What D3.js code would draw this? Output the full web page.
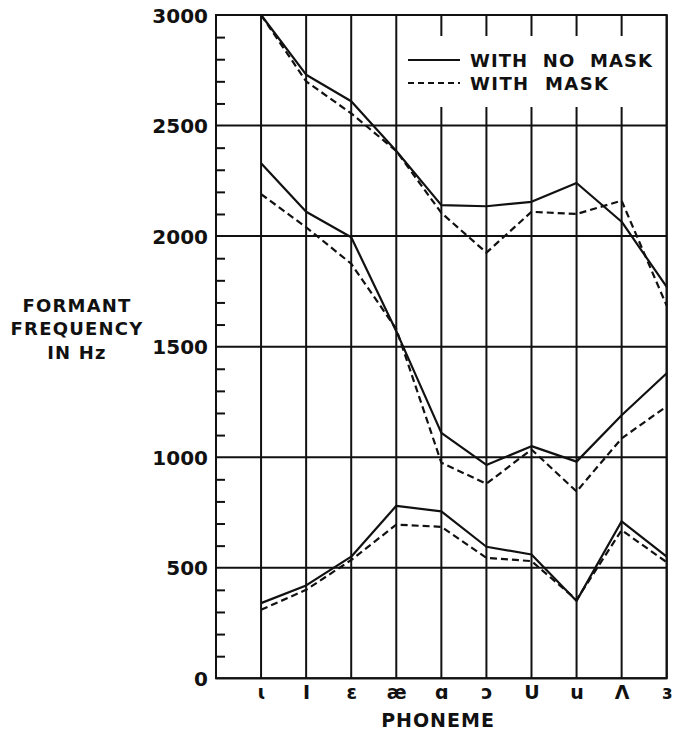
<!DOCTYPE html>
<html>
<head>
<meta charset="utf-8">
<script src="https://cdn.jsdelivr.net/npm/d3@7"></script>
<style>
  html, body { margin: 0; padding: 0; background: #fff; }
  svg { display: block; }
  text { font-family: "DejaVu Sans", sans-serif; font-weight: bold; fill: #111; }
</style>
</head>
<body>
<svg id="chart" width="674" height="734"></svg>
<script>
// Vowel phonemes along the horizontal axis
const phonemes = ["ɩ", "I", "ɛ", "æ", "ɑ", "ɔ", "U", "u", "Λ", "ɜ"];

// Formant frequencies (Hz) for each phoneme
const f1NoMask = [340, 420, 550, 780, 755, 595, 560, 350, 710, 550];
const f1Mask   = [310, 400, 535, 695, 685, 545, 530, 355, 670, 525];
const f2NoMask = [2330, 2110, 1995, 1570, 1110, 965, 1050, 980, 1190, 1380];
const f2Mask   = [2190, 2040, 1875, 1580, 975, 880, 1035, 845, 1085, 1230];
const f3NoMask = [3000, 2730, 2610, 2385, 2140, 2135, 2155, 2240, 2065, 1770];
const f3Mask   = [3000, 2700, 2555, 2385, 2105, 1925, 2110, 2100, 2160, 1685];

// Axis ticks
const majorTicks = [0, 500, 1000, 1500, 2000, 2500, 3000];
const minorTicks = d3.range(100, 3000, 100).filter(v => v % 500 !== 0);

const legendLabels = ["WITH  NO  MASK", "WITH  MASK"];
const yTitle = ["FORMANT", "FREQUENCY", "IN Hz"];
const xTitle = "PHONEME";

const svg = d3.select("#chart");
const plotLeft = 216, plotRight = 666.7, plotTop = 15, plotBottom = 678.3;

// The first slot is left empty so that the first vowel sits one step in from the axis
const x = d3.scalePoint().domain(["", ...phonemes]).range([plotLeft, plotRight]);
const y = d3.scaleLinear().domain([0, 3000]).range([plotBottom, plotTop]);

const ink = "#111";

// Grid: horizontal lines every 500 Hz
svg.append("g").selectAll("line").data(majorTicks).join("line")
  .attr("x1", plotLeft).attr("x2", plotRight)
  .attr("y1", d => y(d)).attr("y2", d => y(d))
  .attr("stroke", ink).attr("stroke-width", 2);

// Grid: vertical lines at each phoneme
svg.append("g").selectAll("line").data(phonemes).join("line")
  .attr("x1", d => x(d)).attr("x2", d => x(d))
  .attr("y1", plotTop).attr("y2", plotBottom)
  .attr("stroke", ink).attr("stroke-width", 2);

// Frame
svg.append("rect")
  .attr("x", plotLeft).attr("y", plotTop)
  .attr("width", plotRight - plotLeft).attr("height", plotBottom - plotTop)
  .attr("fill", "none").attr("stroke", ink).attr("stroke-width", 2);

// Clear area behind the legend
svg.append("rect")
  .attr("x", 404).attr("y", 36).attr("width", 258).attr("height", 71)
  .attr("fill", "#fff");

// Minor ticks inside the left axis
const minorAxis = d3.axisRight(y).tickValues(minorTicks).tickSize(9).tickFormat("");
const gMinor = svg.append("g").attr("transform", `translate(${plotLeft},0)`).call(minorAxis);
gMinor.select(".domain").remove();
gMinor.selectAll(".tick line").attr("stroke", ink).attr("stroke-width", 2);

// Major tick labels
const yAxis = d3.axisLeft(y).tickValues(majorTicks).tickFormat(d3.format("d"))
  .tickSize(0).tickPadding(7);
const gY = svg.append("g").attr("transform", `translate(${plotLeft - 1},0)`).call(yAxis);
gY.select(".domain").remove();
gY.selectAll(".tick text")
  .attr("font-family", "DejaVu Sans").attr("font-weight", "bold")
  .attr("font-size", 20).attr("fill", ink).attr("dy", "0.36em");

// Phoneme labels
const xAxis = d3.axisBottom(x).tickValues(phonemes).tickSize(0).tickPadding(7);
const gX = svg.append("g").attr("transform", `translate(0,${plotBottom})`).call(xAxis);
gX.select(".domain").remove();
gX.selectAll(".tick text")
  .attr("font-family", "DejaVu Sans").attr("font-weight", "bold")
  .attr("font-size", 19).attr("fill", ink);

// Axis titles
svg.append("text")
  .attr("x", 438).attr("y", 727)
  .attr("text-anchor", "middle").attr("font-size", 19)
  .attr("letter-spacing", 1)
  .text(xTitle);

svg.append("g").selectAll("text").data(yTitle).join("text")
  .attr("x", 77).attr("y", (d, i) => 311.5 + i * 23.7)
  .attr("text-anchor", "middle").attr("font-size", 18)
  .attr("letter-spacing", 1.2)
  .text(d => d);

// Formant curves
const line = d3.line().x((d, i) => x(phonemes[i])).y(d => y(d));
const series = [
  { values: f1NoMask, dashed: false },
  { values: f2NoMask, dashed: false },
  { values: f3NoMask, dashed: false },
  { values: f1Mask, dashed: true },
  { values: f2Mask, dashed: true },
  { values: f3Mask, dashed: true }
];
svg.append("g").selectAll("path").data(series).join("path")
  .attr("d", d => line(d.values))
  .attr("fill", "none").attr("stroke", ink).attr("stroke-width", 2.2)
  .attr("stroke-linejoin", "round")
  .attr("stroke-dasharray", d => d.dashed ? "7,4" : null);

// Legend
const legend = svg.append("g");
legendLabels.forEach((label, i) => {
  const ly = 60 + i * 23;
  legend.append("line")
    .attr("x1", 408).attr("x2", 460).attr("y1", ly).attr("y2", ly)
    .attr("stroke", ink).attr("stroke-width", 2)
    .attr("stroke-dasharray", i === 1 ? "6,4" : null);
  legend.append("text")
    .attr("x", 470).attr("y", ly + 7)
    .attr("font-size", 18)
    .attr("textLength", i === 0 ? 182 : 138)
    .attr("lengthAdjust", "spacing")
    .style("white-space", "pre")
    .text(label);
});
</script>
</body>
</html>
